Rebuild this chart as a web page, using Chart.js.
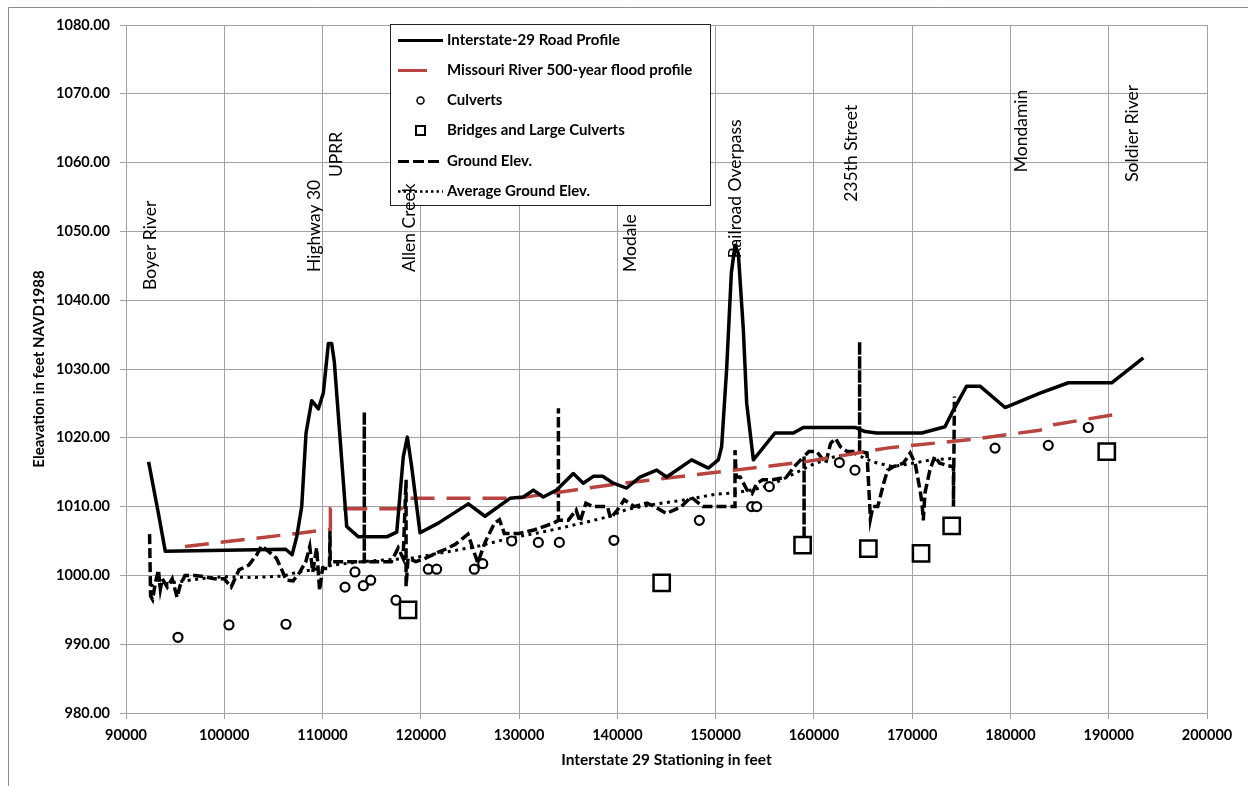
<!DOCTYPE html>
<html><head><meta charset="utf-8">
<script src="https://cdn.jsdelivr.net/npm/chart.js@4/dist/chart.umd.min.js"></script>
<style>html,body{margin:0;padding:0;background:#fff;}#wrap{position:relative;width:1248px;height:786px;}</style>
</head><body><div id="wrap"><canvas id="c" width="1248" height="786"></canvas></div>
<script>
// ---- data ----
const roadX = [92300, 93300, 94000, 106250, 106900, 107370, 107880, 108320, 108900, 109570, 110080, 110590, 110930, 111200, 112460, 113650, 116530, 117550, 118220, 118630, 119070, 119920, 121780, 124830, 126530, 129070, 130430, 131450, 132460, 133820, 135520, 136530, 137550, 138500, 139590, 140950, 142300, 144000, 145020, 147560, 149260, 150270, 150610, 151120, 151600, 151970, 152310, 152820, 153160, 153840, 156040, 157910, 158920, 164180, 165200, 166390, 170970, 173340, 174180, 175540, 176900, 179450, 183010, 185890, 190300, 193520];
const roadY = [1016.5, 1009, 1003.5, 1003.8, 1003, 1005.6, 1010, 1020.7, 1025.4, 1024.2, 1026.5, 1033.7, 1033.7, 1031, 1007.1, 1005.6, 1005.6, 1006.3, 1017.3, 1020.1, 1015.8, 1006.2, 1007.6, 1010.4, 1008.6, 1011.2, 1011.4, 1012.4, 1011.4, 1012.4, 1014.8, 1013.4, 1014.4, 1014.4, 1013.4, 1012.7, 1014.3, 1015.3, 1014.3, 1016.8, 1015.6, 1016.8, 1018.7, 1030, 1044, 1048, 1046.8, 1035.7, 1025, 1016.8, 1020.7, 1020.7, 1021.5, 1021.5, 1020.9, 1020.7, 1020.7, 1021.6, 1024, 1027.5, 1027.5, 1024.4, 1026.5, 1028, 1028, 1031.6];

const floodX = [96000, 107400, 110800, 110800, 118000, 118900, 129700, 140000, 152000, 159000, 167400, 176200, 183000, 184400, 191500];
const floodY = [1004.2, 1006.1, 1006.7, 1009.7, 1009.7, 1011.2, 1011.2, 1013.3, 1015.3, 1016.5, 1018.5, 1019.8, 1021.1, 1021.9, 1023.6];

const culvertX = [95290, 100480, 106280, 112290, 113300, 114150, 114900, 117470, 120760, 121610, 125440, 126300, 129250, 131960, 134100, 139650, 148340, 153670, 154180, 155460, 162590, 164180, 178430, 183850, 187920];
const culvertY = [991, 992.8, 992.9, 998.3, 1000.5, 998.5, 999.3, 996.4, 1000.9, 1000.9, 1000.9, 1001.7, 1005.0, 1004.8, 1004.8, 1005.1, 1008, 1010, 1010, 1012.9, 1016.4, 1015.3, 1018.5, 1018.9, 1021.5];

const bridgeX = [118700, 144510, 158850, 165540, 170900, 174020, 189800];
const bridgeY = [995, 998.9, 1004.4, 1003.9, 1003.2, 1007.2, 1018];

const groundX = [92400, 92500, 92700, 93000, 93300, 93500, 93700, 94200, 94700, 95200, 95500, 96000, 97000, 98000, 99000, 100000, 100700, 101500, 102500, 103300, 103800, 104500, 105300, 105800, 106300, 107000, 107700, 108300, 108700, 109000, 109400, 109700, 110000, 110700, 110760, 110780, 114250, 114250, 114250, 117000, 117700, 118200, 118500, 118500, 118700, 119500, 120500, 121500, 122500, 123500, 124800, 125800, 126500, 127500, 128000, 128500, 130000, 131500, 132500, 133500, 134000, 134000, 134000, 135000, 135800, 136200, 136800, 137500, 139000, 139300, 140000, 140700, 141700, 143000, 143800, 145000, 146500, 147500, 148700, 150000, 151970, 151970, 152100, 152500, 153200, 153700, 154200, 154800, 155800, 157200, 158000, 159000, 159000, 159000, 159500, 160300, 161200, 161700, 162200, 162700, 163400, 164650, 164650, 164650, 165400, 165750, 166000, 166500, 167100, 167500, 168100, 169100, 169800, 170300, 170800, 171000, 171130, 171300, 171800, 172300, 172800, 173500, 174200, 174200, 174300];
const groundY = [1006, 997, 996.5, 999, 1000.8, 998, 999.5, 998.3, 999.5, 996.8, 998.5, 1000, 1000, 999.8, 999.5, 999.5, 998.3, 1000.8, 1001.5, 1003, 1004.3, 1003.5, 1002.5, 1001, 999.3, 999.2, 1000.5, 1002, 1004.2, 1000.5, 1004, 997.8, 1001, 1001, 1006.5, 1002, 1002, 1023.8, 1002, 1002, 1004, 1002.5, 1013.9, 998.4, 1002.5, 1002, 1002.5, 1003.2, 1003.8, 1004.5, 1006, 1001.8, 1004.7, 1007.6, 1008.1, 1006.1, 1006.1, 1006.6, 1007.1, 1007.6, 1008, 1024.3, 1008, 1008, 1009.5, 1007.8, 1010.5, 1010, 1010, 1008.3, 1009.5, 1011, 1010, 1010.5, 1010, 1009, 1010, 1011.4, 1010, 1010, 1010, 1018.2, 1014.3, 1014.3, 1012.4, 1011.9, 1013.4, 1013.9, 1013.9, 1014.3, 1015.8, 1017.3, 1004.2, 1017.3, 1018, 1018, 1016.3, 1019.2, 1019.9, 1018.7, 1018, 1018, 1034, 1018, 1017.8, 1008.2, 1010, 1010, 1013.4, 1015.3, 1015.8, 1016.3, 1017.8, 1016.3, 1012.4, 1010.5, 1008, 1012, 1015.3, 1017.3, 1016.3, 1016, 1015.8, 1010, 1026];

const avgX = [92500, 94000, 96000, 98000, 100000, 103000, 106000, 107500, 109000, 111000, 114000, 117000, 119000, 121000, 123000, 126000, 129000, 132000, 134000, 137000, 139000, 141000, 144000, 147000, 150000, 152000, 154000, 156000, 158000, 160000, 162000, 164000, 166000, 168000, 170000, 172000, 174000];
const avgY = [998.5, 998.8, 999.2, 999.6, 999.8, 999.7, 999.9, 1000.5, 1000.8, 1001.5, 1002, 1002.3, 1002.5, 1003, 1003.5, 1004.3, 1005.4, 1006.2, 1006.8, 1007.8, 1008.5, 1009.6, 1010.4, 1011, 1011.8, 1012, 1012.5, 1013.4, 1014.8, 1016.2, 1017.2, 1017.8, 1016.5, 1015.8, 1016.3, 1016.8, 1017];

const seriesNames = ['Interstate-29 Road Profile', 'Missouri River 500-year flood profile', 'Culverts', 'Bridges and Large Culverts', 'Ground Elev.', 'Average Ground Elev.'];

const annoNames = ['Boyer River', 'Highway 30', 'UPRR', 'Allen Creek', 'Modale', 'Railroad Overpass', '235th Street', 'Mondamin', 'Soldier River'];
const annoX = [92440, 109130, 111370, 118800, 141290, 151970, 163780, 181080, 192370];
const annoY = [1041.5, 1044.1, 1057.9, 1044.1, 1044.1, 1046.1, 1054.3, 1058.6, 1057.2];

const xTitle = 'Interstate 29 Stationing in feet';
const yTitle = 'Eleavation in feet NAVD1988';

const pts = (xs, ys) => xs.map((x, i) => ({x: x, y: ys[i]}));

const RED = '#b8433f';
const GRID = '#a3a3a3';
const FONT = 'Lato';

const lineBase = {showLine: true, pointRadius: 0, pointHoverRadius: 0, fill: false, tension: 0};

const datasets = [
  Object.assign({}, lineBase, {label: seriesNames[0], data: pts(roadX, roadY), borderColor: '#000', borderWidth: 3.5, borderJoinStyle: 'round', order: 2}),
  Object.assign({}, lineBase, {label: seriesNames[1], data: pts(floodX, floodY), borderColor: RED, borderWidth: 3.5, borderDash: [24, 12], order: 3}),
  {label: seriesNames[2], data: pts(culvertX, culvertY), showLine: false, pointStyle: 'circle', pointRadius: 4.5, borderWidth: 2.2, borderColor: '#000', backgroundColor: '#fff', order: 1},
  {label: seriesNames[3], data: pts(bridgeX, bridgeY), showLine: false, pointStyle: 'rect', pointRadius: 11.5, borderWidth: 2.5, borderColor: '#000', backgroundColor: '#fff', order: 0},
  Object.assign({}, lineBase, {label: seriesNames[4], data: pts(groundX, groundY), borderColor: '#000', borderWidth: 3.5, borderDash: [10, 4], order: 4}),
  Object.assign({}, lineBase, {label: seriesNames[5], data: pts(avgX, avgY), borderColor: '#000', borderWidth: 3, borderDash: [3, 4.5], order: 5})
];

const decor = {
  id: 'decor',
  beforeDraw(chart) {
    const ctx = chart.ctx;
    ctx.save();
    ctx.fillStyle = '#fff';
    ctx.fillRect(0, 0, chart.width, chart.height);
    ctx.strokeStyle = '#8c8c8c';
    ctx.lineWidth = 1;
    ctx.beginPath();
    ctx.moveTo(8.5, chart.height);
    ctx.lineTo(8.5, 7.5);
    ctx.lineTo(chart.width, 7.5);
    ctx.stroke();
    ctx.restore();
  },
  afterDatasetsDraw(chart) {
    const ctx = chart.ctx;
    // legend box
    ctx.save();
    const bx = 390.5, by = 24.5, bw = 320, bh = 181;
    ctx.fillStyle = '#fff';
    ctx.fillRect(bx, by, bw, bh);
    ctx.strokeStyle = '#222';
    ctx.lineWidth = 1;
    ctx.strokeRect(bx, by, bw, bh);
    const rows = [40.5, 70.5, 100.5, 130.5, 161.5, 191.5];
    const tx = 447;
    rows.forEach((ry, i) => {
      ctx.save();
      ctx.strokeStyle = '#000';
      ctx.setLineDash([]);
      if (i === 0) {
        ctx.lineWidth = 3; ctx.beginPath(); ctx.moveTo(398, ry); ctx.lineTo(443, ry); ctx.stroke();
      } else if (i === 1) {
        ctx.strokeStyle = RED; ctx.lineWidth = 3; ctx.beginPath(); ctx.moveTo(398, ry); ctx.lineTo(427, ry); ctx.stroke();
      } else if (i === 2) {
        ctx.lineWidth = 1.5; ctx.fillStyle = '#fff'; ctx.beginPath(); ctx.arc(420.5, ry, 3.5, 0, Math.PI * 2); ctx.fill(); ctx.stroke();
      } else if (i === 3) {
        ctx.lineWidth = 2; ctx.fillStyle = '#fff'; ctx.beginPath(); ctx.rect(416, ry - 4.5, 9, 9); ctx.fill(); ctx.stroke();
      } else if (i === 4) {
        ctx.lineWidth = 3; ctx.setLineDash([11, 4]); ctx.beginPath(); ctx.moveTo(398, ry); ctx.lineTo(443, ry); ctx.stroke();
      } else {
        ctx.lineWidth = 2.5; ctx.setLineDash([2.5, 3]); ctx.beginPath(); ctx.moveTo(398, ry); ctx.lineTo(443, ry); ctx.stroke();
      }
      ctx.restore();
      ctx.fillStyle = '#000';
      ctx.font = 'bold 15px ' + FONT;
      ctx.textAlign = 'left';
      ctx.textBaseline = 'middle';
      ctx.fillText(chart.data.datasets[i].label, tx, ry);
    });
    ctx.restore();

    // annotations
    const xs = chart.scales.x, ys = chart.scales.y;
    ctx.save();
    ctx.fillStyle = '#000';
    ctx.font = '17.5px ' + FONT;
    ctx.textAlign = 'left';
    ctx.textBaseline = 'middle';
    annoNames.forEach((name, i) => {
      const px = xs.getPixelForValue(annoX[i]);
      const py = ys.getPixelForValue(annoY[i]);
      ctx.save();
      ctx.translate(px, py);
      ctx.rotate(-Math.PI / 2);
      ctx.fillText(name, 0, 0);
      ctx.restore();
    });
    ctx.restore();
  },
  afterDraw(chart) {
    const ctx = chart.ctx;
    const a = chart.chartArea;
    ctx.save();
    ctx.fillStyle = '#000';
    ctx.font = 'bold 15.5px ' + FONT;
    ctx.textAlign = 'center';
    ctx.textBaseline = 'middle';
    ctx.fillText(xTitle, (a.left + a.right) / 2, 760);
    ctx.font = 'bold 15px ' + FONT;
    ctx.translate(39, (a.top + a.bottom) / 2);
    ctx.rotate(-Math.PI / 2);
    ctx.fillText(yTitle, 0, 0);
    ctx.restore();
  }
};

const tickFont = {family: FONT, size: 14.5, weight: 'bold'};

new Chart(document.getElementById('c'), {
  type: 'scatter',
  data: {datasets: datasets},
  plugins: [decor],
  options: {
    responsive: false,
    animation: false,
    events: [],
    layout: {padding: {top: 25, right: 41, left: 0, bottom: 0}},
    plugins: {legend: {display: false}, tooltip: {enabled: false}},
    scales: {
      x: {
        type: 'linear', min: 90000, max: 200000,
        afterFit(s) { s.height = 73; },
        ticks: {stepSize: 10000, color: '#000', font: tickFont, padding: 8, maxRotation: 0, autoSkip: false, callback: v => String(v)},
        grid: {color: GRID, lineWidth: 1, tickLength: 6},
        border: {color: GRID, width: 1}
      },
      y: {
        type: 'linear', min: 980, max: 1080,
        afterFit(s) { s.width = 126; },
        ticks: {stepSize: 10, color: '#000', font: tickFont, padding: 10, callback: v => Number(v).toFixed(2)},
        grid: {color: GRID, lineWidth: 1, tickLength: 6},
        border: {color: GRID, width: 1}
      }
    }
  }
});
</script></body></html>
